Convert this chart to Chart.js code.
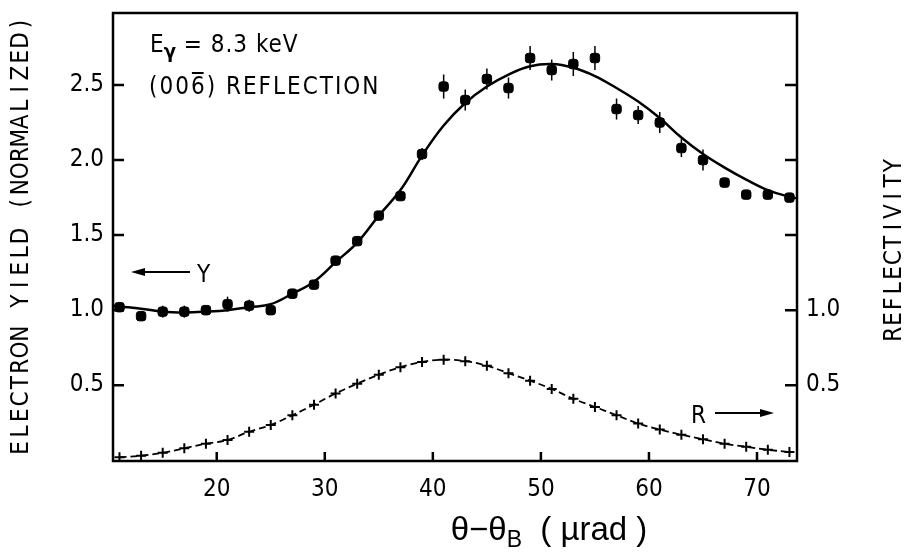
<!DOCTYPE html>
<html>
<head>
<meta charset="utf-8">
<script src="https://cdn.jsdelivr.net/npm/chart.js@4.4.1/dist/chart.umd.min.js"></script>
<style>
  html, body { margin: 0; padding: 0; background: #fff; }
  #wrap { width: 910px; height: 556px; }
</style>
</head>
<body>
<div id="wrap"><canvas id="chart" width="910" height="556"></canvas></div>
<script>
// angle theta - theta_B in microrad, measured every 2 urad
const angles = [11, 13, 15, 17, 19, 21, 23, 25, 27, 29, 31, 33, 35, 37, 39, 41,
                43, 45, 47, 49, 51, 53, 55, 57, 59, 61, 63, 65, 67, 69, 71, 73];
const yieldData = [1.02, 0.96, 0.99, 0.99, 1.00, 1.04, 1.03, 1.00, 1.11, 1.17, 1.33, 1.46, 1.63, 1.76, 2.04, 2.49,
                   2.40, 2.54, 2.48, 2.68, 2.60, 2.64, 2.68, 2.34, 2.30, 2.25, 2.08, 2.00, 1.85, 1.77, 1.77, 1.75];
const yieldErr = [0, 0, 0.04, 0.04, 0.03, 0.05, 0.04, 0, 0.03, 0.03, 0, 0.03, 0, 0.03, 0.04, 0.08,
                  0.07, 0.07, 0.07, 0.08, 0.07, 0.08, 0.08, 0.07, 0.06, 0.07, 0.06, 0.07, 0, 0, 0, 0];
const reflectivity = [0.02, 0.03, 0.05, 0.08, 0.11, 0.135, 0.19, 0.235, 0.30, 0.37, 0.445, 0.51, 0.57, 0.62, 0.655, 0.67,
                      0.66, 0.63, 0.58, 0.53, 0.475, 0.41, 0.355, 0.30, 0.245, 0.205, 0.17, 0.14, 0.11, 0.09, 0.07, 0.055];
// fitted yield curve
const fitAngles = [10.4, 11, 13, 15, 17, 19, 21, 23, 25, 27, 29, 31, 33, 35, 37, 39, 41,
                   43, 45, 47, 49, 51, 53, 55, 57, 59, 61, 63, 65, 67, 69, 71, 73, 73.7];
const fitYield = [1.03, 1.025, 1.01, 0.99, 0.985, 0.99, 1.00, 1.02, 1.04, 1.11, 1.19, 1.32, 1.45, 1.63, 1.80, 2.03, 2.23,
                  2.38, 2.49, 2.57, 2.625, 2.64, 2.615, 2.56, 2.48, 2.39, 2.28, 2.15, 2.04, 1.95, 1.87, 1.80, 1.755, 1.745];

const xTicks = [20, 30, 40, 50, 60, 70];
const yTicks = [0.5, 1.0, 1.5, 2.0, 2.5];
const rTicks = [0.5, 1.0];

const FONT = "'DejaVu Sans Condensed', 'Liberation Sans Narrow', 'DejaVu Sans', sans-serif";
const TITLE_FONT = "'Liberation Sans', 'DejaVu Sans', sans-serif";

function pairs(xs, ys) {
  return xs.map((v, i) => ({ x: v, y: ys[i] }));
}

// draws a string with a fixed advance per character (plotter lettering)
function plotterText(ctx, text, cx, cy, span, rot) {
  ctx.save();
  ctx.translate(cx, cy);
  ctx.rotate(rot);
  ctx.textAlign = 'center';
  ctx.textBaseline = 'middle';
  const step = span / text.length;
  for (let i = 0; i < text.length; i++) {
    ctx.fillText(text[i], -span / 2 + step * (i + 0.5), 0);
  }
  ctx.restore();
}

function arrow(ctx, x1, x2, y) {
  const dir = Math.sign(x2 - x1);
  ctx.beginPath();
  ctx.moveTo(x1, y);
  ctx.lineTo(x2 - dir * 10, y);
  ctx.stroke();
  ctx.beginPath();
  ctx.moveTo(x2, y);
  ctx.lineTo(x2 - dir * 14, y - 4);
  ctx.lineTo(x2 - dir * 14, y + 4);
  ctx.closePath();
  ctx.fill();
}

const paperPlugin = {
  id: 'paper',
  beforeDatasetsDraw(chart) {
    const { ctx, scales: { x, y } } = chart;
    ctx.save();
    ctx.strokeStyle = '#000';
    ctx.lineWidth = 1.5;
    angles.forEach((a, i) => {
      const e = yieldErr[i];
      if (!e) return;
      const px = x.getPixelForValue(a);
      ctx.beginPath();
      ctx.moveTo(px, y.getPixelForValue(yieldData[i] + e));
      ctx.lineTo(px, y.getPixelForValue(yieldData[i] - e));
      ctx.stroke();
    });
    ctx.restore();
  },
  afterDraw(chart) {
    const { ctx, chartArea: a, scales: { x, y } } = chart;
    ctx.save();
    ctx.strokeStyle = '#000';
    ctx.fillStyle = '#000';
    ctx.lineWidth = 2.5;
    ctx.strokeRect(a.left, a.top, a.right - a.left, a.bottom - a.top);

    // inward tick marks
    ctx.beginPath();
    xTicks.forEach(v => {
      const p = x.getPixelForValue(v);
      ctx.moveTo(p, a.bottom);
      ctx.lineTo(p, a.bottom - 9);
    });
    yTicks.forEach(v => {
      const p = y.getPixelForValue(v);
      ctx.moveTo(a.left, p);
      ctx.lineTo(a.left + 11, p);
      ctx.moveTo(a.right, p);
      ctx.lineTo(a.right - 12, p);
    });
    ctx.stroke();

    // annotations
    ctx.font = `24px ${FONT}`;
    ctx.textBaseline = 'alphabetic';
    ctx.textAlign = 'left';
    ctx.fillText('E', 150, 52);
    const wE = ctx.measureText('E').width;
    ctx.font = `bold 20px ${FONT}`;
    ctx.fillText('γ', 150 + wE, 58);
    const wG = ctx.measureText('γ').width;
    ctx.font = `24px ${FONT}`;
    ctx.letterSpacing = '1px';
    ctx.fillText(' = 8.3 keV', 150 + wE + wG, 52);

    ctx.letterSpacing = '2px';
    ctx.fillText('(006) REFLECTION', 149, 94);
    const w0 = ctx.measureText('(00').width;
    const w1 = ctx.measureText('(006').width;
    ctx.letterSpacing = '0px';
    ctx.lineWidth = 2;
    ctx.beginPath();
    ctx.moveTo(149 + w0 + 1, 73);
    ctx.lineTo(149 + w1 - 3, 73);
    ctx.stroke();

    ctx.lineWidth = 2;
    arrow(ctx, 190, 131, 272);
    ctx.fillText('Y', 197, 282);
    ctx.fillText('R', 691, 423);
    arrow(ctx, 715, 774, 413);

    // axis titles
    ctx.font = `24px ${FONT}`;
    plotterText(ctx, 'ELECTRON YIELD (NORMALIZED)', 22, 236, 440, -Math.PI / 2);
    plotterText(ctx, 'REFLECTIVITY', 895, 250, 184, -Math.PI / 2);

    ctx.font = `33px ${TITLE_FONT}`;
    const p1 = 'θ−θ', p2 = 'B', p3 = '  ( µrad )';
    const w1t = ctx.measureText(p1).width;
    const w3t = ctx.measureText(p3).width;
    ctx.font = `23px ${TITLE_FONT}`;
    const w2t = ctx.measureText(p2).width;
    const sx = 549 - (w1t + w2t + w3t) / 2;
    ctx.font = `33px ${TITLE_FONT}`;
    ctx.fillText(p1, sx, 540);
    ctx.font = `23px ${TITLE_FONT}`;
    ctx.fillText(p2, sx + w1t, 547);
    ctx.font = `33px ${TITLE_FONT}`;
    ctx.fillText(p3, sx + w1t + w2t, 540);
    ctx.restore();
  }
};

const tickFont = { family: FONT, size: 24 };
const noPad = s => { s.paddingTop = 0; s.paddingBottom = 0; s.paddingLeft = 0; s.paddingRight = 0; };

new Chart(document.getElementById('chart').getContext('2d'), {
  type: 'scatter',
  data: {
    datasets: [
      {
        label: 'Fit',
        data: pairs(fitAngles, fitYield),
        showLine: true,
        borderColor: '#000',
        borderWidth: 2.5,
        pointRadius: 0,
        tension: 0.4
      },
      {
        label: 'Y',
        data: pairs(angles, yieldData),
        pointStyle: 'rectRounded',
        pointRadius: 5.5,
        backgroundColor: '#000',
        borderColor: '#000'
      },
      {
        label: 'R',
        data: pairs(angles, reflectivity),
        showLine: true,
        borderColor: '#000',
        borderWidth: 1.8,
        borderDash: [7, 4],
        tension: 0.4,
        pointStyle: 'cross',
        pointRadius: 5,
        pointBorderWidth: 2,
        pointBorderColor: '#000'
      }
    ]
  },
  options: {
    responsive: false,
    animation: false,
    devicePixelRatio: 1,
    layout: { padding: { top: 13, left: 0, right: 0, bottom: 0 } },
    plugins: { legend: { display: false }, tooltip: { enabled: false } },
    scales: {
      x: {
        type: 'linear',
        min: 10.4,
        max: 73.7,
        grid: { display: false, drawTicks: false },
        border: { display: false },
        afterBuildTicks: s => { s.ticks = xTicks.map(v => ({ value: v })); },
        afterFit: s => { s.height = 95; noPad(s); },
        ticks: { font: tickFont, color: '#000', padding: 14, maxRotation: 0, autoSkip: false }
      },
      y: {
        min: -0.005,
        max: 2.98,
        grid: { display: false, drawTicks: false },
        border: { display: false },
        afterBuildTicks: s => { s.ticks = yTicks.map(v => ({ value: v })); },
        afterFit: s => { s.width = 113; noPad(s); },
        ticks: { font: tickFont, color: '#000', padding: 9, callback: v => v.toFixed(1) }
      },
      y2: {
        position: 'right',
        min: -0.005,
        max: 2.98,
        grid: { display: false, drawTicks: false },
        border: { display: false },
        afterBuildTicks: s => { s.ticks = rTicks.map(v => ({ value: v })); },
        afterFit: s => { s.width = 113; noPad(s); },
        ticks: { font: tickFont, color: '#000', padding: 9, callback: v => v.toFixed(1) }
      }
    }
  },
  plugins: [paperPlugin]
});
</script>
</body>
</html>
